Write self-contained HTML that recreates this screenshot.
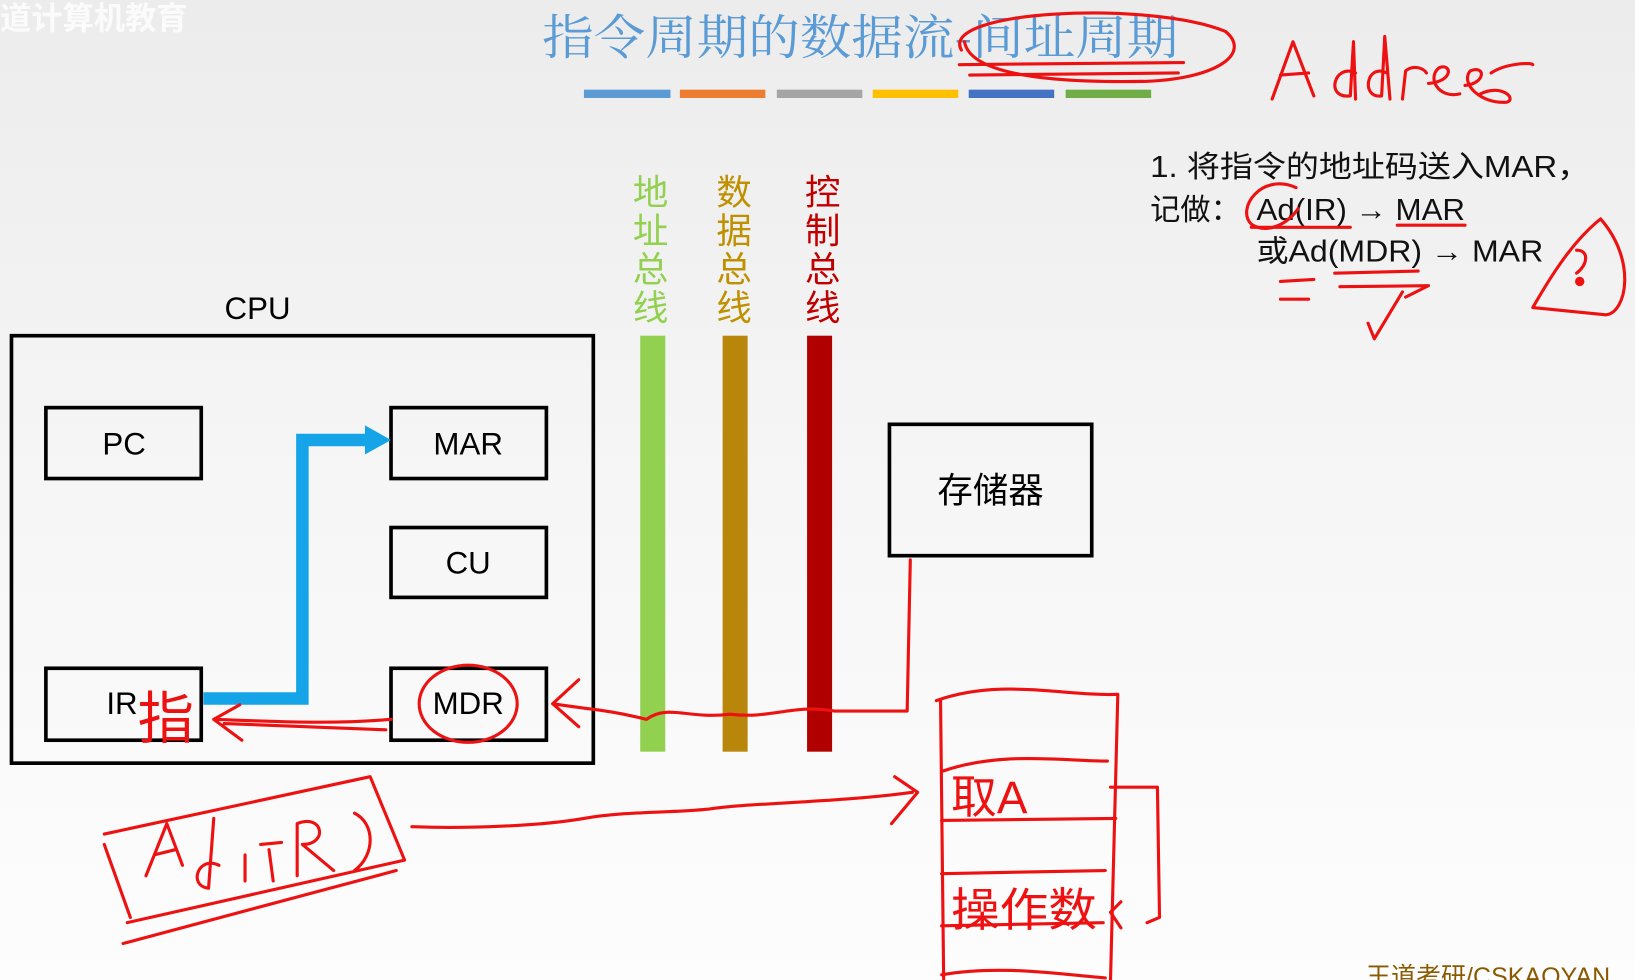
<!DOCTYPE html>
<html><head><meta charset="utf-8"><style>
html,body{margin:0;padding:0;width:1635px;height:980px;overflow:hidden;background:#f5f5f5}
svg{display:block}
text{font-family:"Liberation Sans","Noto Sans CJK SC",sans-serif}
</style></head><body>
<svg width="1635" height="980" viewBox="0 0 1568 940" preserveAspectRatio="none" xmlns="http://www.w3.org/2000/svg">
<defs><linearGradient id="bg" x1="0" y1="0" x2="0" y2="1"><stop offset="0" stop-color="#ececec"/><stop offset="0.5" stop-color="#f6f6f6"/><stop offset="1" stop-color="#fdfdfd"/></linearGradient></defs>
<rect width="1568" height="940" fill="url(#bg)"/>
<text x="0" y="28" font-size="30" fill="#ffffff" font-weight="bold" opacity="0.8">道计算机教育</text>
<text x="520" y="52" font-size="46" fill="#5b9bd5" textLength="610" lengthAdjust="spacingAndGlyphs" style="font-family:'Noto Serif CJK SC','Noto Sans CJK SC',serif">指令周期的数据流-间址周期</text>
<g>
<rect x="560" y="86" width="83" height="8" fill="#5b9bd5"/>
<rect x="652" y="86" width="82" height="8" fill="#ed7d31"/>
<rect x="745" y="86" width="82" height="8" fill="#a5a5a5"/>
<rect x="837" y="86" width="82" height="8" fill="#ffc000"/>
<rect x="929" y="86" width="82" height="8" fill="#4472c4"/>
<rect x="1022" y="86" width="82" height="8" fill="#70ad47"/>
</g>
<text x="1103" y="170" font-size="29" fill="#111" textLength="422" lengthAdjust="spacingAndGlyphs">1. 将指令的地址码送入MAR，</text>
<text x="1103" y="211" font-size="29" fill="#111">记做：</text>
<text x="1205" y="211" font-size="29" fill="#111" textLength="200" lengthAdjust="spacingAndGlyphs">Ad(IR) → MAR</text>
<text x="1205" y="251" font-size="29" fill="#111" textLength="275" lengthAdjust="spacingAndGlyphs">或Ad(MDR) → MAR</text>
<g font-size="34" text-anchor="middle">
<text x="624" y="196" fill="#92d050">地</text><text x="624" y="233" fill="#92d050">址</text><text x="624" y="270" fill="#92d050">总</text><text x="624" y="307" fill="#92d050">线</text>
<text x="704" y="196" fill="#bf9000">数</text><text x="704" y="233" fill="#bf9000">据</text><text x="704" y="270" fill="#bf9000">总</text><text x="704" y="307" fill="#bf9000">线</text>
<text x="789" y="196" fill="#c00000">控</text><text x="789" y="233" fill="#c00000">制</text><text x="789" y="270" fill="#c00000">总</text><text x="789" y="307" fill="#c00000">线</text>
</g>
<rect x="614" y="322" width="24" height="399" fill="#92d050"/>
<rect x="693" y="322" width="24" height="399" fill="#b8860b"/>
<rect x="774" y="322" width="24" height="399" fill="#b00000"/>
<text x="247" y="306" font-size="30" text-anchor="middle" fill="#000">CPU</text>
<rect x="11" y="322" width="558" height="410" fill="none" stroke="#000" stroke-width="3.5"/>
<g fill="none" stroke="#000" stroke-width="3.5">
<rect x="44" y="391" width="149" height="68"/><rect x="375" y="391" width="149" height="68"/>
<rect x="375" y="506" width="149" height="67"/><rect x="44" y="641" width="149" height="69"/>
<rect x="375" y="641" width="149" height="69"/><rect x="853" y="407" width="194" height="126"/>
</g>
<g font-size="30" text-anchor="middle" fill="#000">
<text x="119" y="436">PC</text><text x="449" y="436">MAR</text><text x="449" y="550">CU</text>
<text x="117" y="685">IR</text><text x="449" y="685">MDR</text>
</g>
<text x="950" y="482" font-size="34" text-anchor="middle" fill="#000">存储器</text>
<path d="M195 670 H290 V422 H352" fill="none" stroke="#15a4e8" stroke-width="12"/>
<path d="M350 408 L375 422 L350 436 Z" fill="#15a4e8"/>
<g fill="#ee1111" style="font-family:'Noto Sans CJK SC',sans-serif">
<text x="132" y="708" font-size="54">指</text>
<text x="912" y="780" font-size="44">取A</text>
<text x="912" y="888" font-size="44" textLength="140" lengthAdjust="spacingAndGlyphs">操作数</text>
</g>
<g fill="none" stroke="#ee1111" stroke-width="3" stroke-linecap="round" stroke-linejoin="round">
<path d="M922 48 C900 10 1100 0 1175 30 C1200 50 1170 75 1100 78 C1000 80 930 70 925 40"/>
<path d="M920 62 L1135 60 M930 72 L1130 70"/>
<path d="M1220 95 L1240 40 L1260 92 M1228 72 L1255 70 M1300 70 C1280 60 1270 95 1295 92 L1298 40 L1300 95 M1330 70 C1310 60 1305 95 1325 92 L1328 35 L1333 95 M1345 95 L1348 68 C1355 62 1365 65 1368 70 M1370 80 C1395 78 1392 60 1380 65 C1368 75 1380 95 1400 90 M1405 82 C1425 80 1425 62 1410 68 C1400 80 1420 100 1445 98 C1455 95 1440 80 1420 90 M1430 70 C1445 60 1470 60 1470 62"/>
<path d="M1243 180 C1210 165 1185 200 1200 215 C1215 225 1235 215 1245 200"/>
<path d="M1200 218 L1295 218 M1340 216 L1405 216 M1228 270 L1260 268 M1228 287 L1255 287 M1280 262 L1360 260 M1285 275 L1370 274 L1348 285 M1345 280 L1318 325 L1312 310"/>
<path d="M1535 210 C1570 250 1560 300 1540 302 L1470 295 C1490 260 1510 230 1535 210 M1512 240 C1525 240 1522 255 1512 262"/>
<circle cx="1515" cy="270" r="3" fill="#ee1111"/>
<path d="M873 537 L870 682 L800 682 C760 675 740 690 700 685 C660 690 640 675 620 690 C580 680 560 680 530 675 M555 652 L530 675 L555 697"/>
<ellipse cx="449" cy="675" rx="47" ry="37"/>
<path d="M375 690 C320 695 260 692 205 690 M230 676 L205 690 L232 710 M215 694 L370 700"/>
<path d="M898 672 C960 650 1020 668 1072 666 L1065 940 M902 672 L905 940"/>
<path d="M903 740 C960 720 1020 730 1062 730 M903 787 L1070 785 M903 838 L1060 835 M903 888 L1058 885 M903 935 C960 925 1020 935 1060 938"/>
<path d="M1065 755 L1110 755 L1112 880 L1100 885 M1075 865 L1065 875 L1075 890"/>
<path d="M395 793 C450 795 520 792 560 785 C600 778 640 780 680 776 C720 770 800 770 875 760 M858 745 L880 760 L855 790"/>
<path d="M100 800 L355 745 L388 825 L122 885 M100 810 L125 880 M140 840 L160 790 L175 830 M148 820 L168 815 M210 830 C190 820 180 850 200 852 L205 785 M235 845 L235 820 M258 815 L262 845 M250 810 L270 808 M285 840 L285 790 C310 780 315 810 290 810 L320 835 M340 780 C360 790 360 820 340 835 M118 905 L380 835"/>
</g>
<text x="1310" y="945" font-size="24" fill="#8b5a00">王道考研/CSKAOYAN</text>
</svg>
</body></html>
